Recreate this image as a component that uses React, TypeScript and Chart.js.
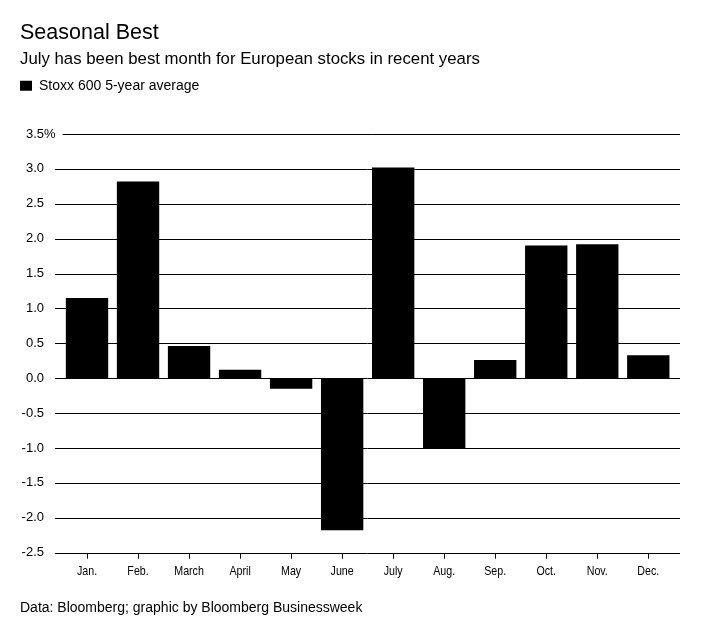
import React, { useEffect, useRef } from "react";
import { Chart, registerables, layouts } from "chart.js";

Chart.register(...registerables);

const titleText = "Seasonal Best";
const subtitleText = "July has been best month for European stocks in recent years";
const seriesLabel = "Stoxx 600 5-year average";
const sourceText = "Data: Bloomberg; graphic by Bloomberg Businessweek";

const categories = ["Jan.", "Feb.", "March", "April", "May", "June", "July", "Aug.", "Sep.", "Oct.", "Nov.", "Dec."];
const stoxxAverage = [1.15, 2.82, 0.46, 0.12, -0.15, -2.18, 3.02, -1.01, 0.26, 1.9, 1.92, 0.33];
const yMin = -2.5;
const yMax = 3.5;
const yStep = 0.5;

const FONT = '"Liberation Sans", Arial, Helvetica, sans-serif';

const spacerPlugin = {
  id: "legendSpacer",
  beforeInit(chart: any) {
    const box: any = {
      position: "top",
      weight: 100,
      fullSize: true,
      options: { stackWeight: 1 },
      top: 0,
      left: 0,
      right: 0,
      bottom: 0,
      width: 0,
      height: 0,
      update(maxWidth: number) {
        this.width = maxWidth;
        this.height = 31.2;
        return this.height;
      },
      isHorizontal() {
        return true;
      },
      draw() {},
    };
    layouts.addBox(chart, box);
  },
};

const gridPlugin = {
  id: "bbgGrid",
  beforeDatasetsDraw(chart: any) {
    const { ctx, chartArea } = chart;
    const y = chart.scales.y;
    const labelRight = y.right - y.options.ticks.padding;
    ctx.save();
    ctx.font = `13px ${FONT}`;
    const pctW = ctx.measureText("%").width;
    ctx.strokeStyle = "#000";
    ctx.lineWidth = 1;
    y.ticks.forEach((t: any) => {
      const py = Math.round(y.getPixelForValue(t.value)) + 0.5;
      const x0 = Math.abs(t.value - yMax) < 1e-9 ? labelRight + pctW + 7 : chartArea.left - 6.5;
      const x1 = chartArea.right + 6.2;
      ctx.beginPath();
      ctx.moveTo(x0, py);
      ctx.lineTo(x1, py);
      ctx.stroke();
    });
    ctx.restore();
  },
  afterDraw(chart: any) {
    const { ctx, chartArea } = chart;
    const y = chart.scales.y;
    const x = chart.scales.x;
    const labelRight = y.right - y.options.ticks.padding;
    ctx.save();
    ctx.font = `13px ${FONT}`;
    ctx.fillStyle = "#000";
    ctx.textAlign = "left";
    ctx.textBaseline = "middle";
    ctx.fillText("%", labelRight, y.getPixelForValue(yMax));
    // condensed month labels, as in the original
    ctx.textAlign = "center";
    const labelY = chartArea.bottom + 18.5;
    const labels = chart.data.labels as string[];
    labels.forEach((lab, i) => {
      const px = x.getPixelForTick(i);
      ctx.save();
      ctx.translate(px, labelY);
      ctx.scale(0.82, 1);
      ctx.fillText(lab, 0, 0);
      ctx.restore();
    });
    ctx.restore();
  },
};

export default function App() {
  const canvasRef = useRef<HTMLCanvasElement | null>(null);

  useEffect(() => {
    if (!canvasRef.current) return;
    const chart = new Chart(canvasRef.current, {
      type: "bar",
      data: {
        labels: categories,
        datasets: [
          {
            label: seriesLabel,
            data: stoxxAverage,
            backgroundColor: "#000",
            borderWidth: 0,
            categoryPercentage: 1,
            barPercentage: 0.83,
          },
        ],
      },
      options: {
        responsive: false,
        animation: false,
        devicePixelRatio: 1,
        layout: { padding: { top: 0, left: 20, right: 46.2, bottom: 0 } },
        plugins: {
          title: {
            display: true,
            text: titleText,
            align: "start",
            color: "#000",
            font: { family: FONT, size: 21.5, weight: "normal", lineHeight: 1.2 },
            padding: { top: 20.5, bottom: 0 },
          },
          subtitle: {
            display: true,
            text: subtitleText,
            align: "start",
            color: "#000",
            font: { family: FONT, size: 16.8, weight: "normal", lineHeight: 1.2 },
            padding: { top: 2.8, bottom: 9.5 },
          },
          legend: {
            display: true,
            align: "start",
            position: "top",
            labels: {
              boxWidth: 12,
              boxHeight: 10,
              padding: 0,
              color: "#000",
              font: { family: FONT, size: 14 },
            },
          },
          tooltip: { enabled: false },
        },
        scales: {
          x: {
            grid: {
              display: true,
              drawOnChartArea: false,
              drawTicks: true,
              tickLength: 6,
              color: "#000",
              lineWidth: 1,
              offset: false,
            },
            border: { display: false },
            ticks: {
              display: false,
              autoSkip: false,
              maxRotation: 0,
            },
            afterFit(scale: any) {
              scale.height = 81.3;
            },
          },
          y: {
            min: yMin,
            max: yMax,
            grid: { display: false, drawTicks: false },
            border: { display: false },
            ticks: {
              stepSize: yStep,
              color: "#000",
              font: { family: FONT, size: 13 },
              padding: 17.5,
              callback: (v: any) => Number(v).toFixed(1),
            },
            afterFit(scale: any) {
              scale.width = 41.5;
            },
          },
        },
      },
      plugins: [spacerPlugin, gridPlugin],
    } as any);
    return () => chart.destroy();
  }, []);

  return (
    <div style={{ position: "absolute", left: 0, top: 0, width: 720, height: 634, background: "#fff" }}>
      <canvas ref={canvasRef} width={720} height={634} style={{ display: "block" }} />
      <div
        style={{
          position: "absolute",
          left: 20,
          top: 599,
          fontFamily: FONT,
          fontSize: 14,
          lineHeight: "16px",
          color: "#000",
          whiteSpace: "nowrap",
        }}
      >
        {sourceText}
      </div>
    </div>
  );
}
